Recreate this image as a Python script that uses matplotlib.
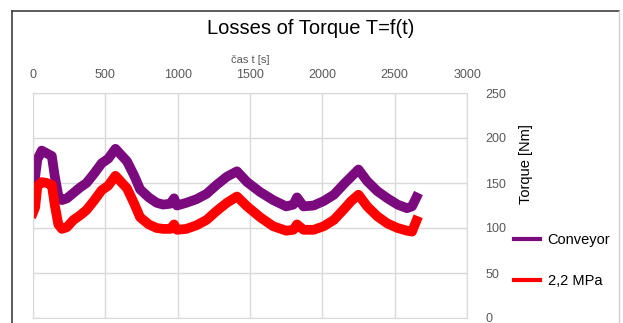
import numpy as np
import matplotlib
matplotlib.use("Agg")
import matplotlib.pyplot as plt
from matplotlib.lines import Line2D

plt.rcParams['font.family'] = ['Liberation Sans', 'DejaVu Sans']

# time [s]
t = [0, 15, 30, 60, 95, 130, 150, 175, 200, 235, 280, 325, 370, 420, 475,
     520, 570, 610, 650, 700, 740, 800, 855, 900, 950, 975, 995, 1060, 1130,
     1200, 1270, 1340, 1410, 1480, 1570, 1660, 1750, 1800, 1825, 1870, 1940,
     2010, 2080, 2150, 2200, 2250, 2310, 2380, 2450, 2520, 2585, 2620, 2650]
# torque [Nm]
conveyor = [152, 157, 176, 186, 183, 180, 158, 136, 131, 133, 139, 145, 150,
            160, 172, 177, 188, 181, 174, 158, 143, 134, 128, 126, 127, 133,
            125, 128, 132, 138, 148, 157, 163, 151, 140, 131, 124, 126, 134,
            124, 125, 130, 137, 149, 157, 165, 152, 141, 133, 126, 122, 124, 134]
mpa22 = [117, 123, 146, 151, 150, 148, 126, 104, 99, 101, 109, 114, 120,
         130, 142, 147, 158, 151, 144, 127, 112, 104, 100, 99, 99, 104,
         98, 99, 103, 109, 119, 128, 135, 124, 112, 102, 97, 98, 104,
         98, 98, 102, 109, 121, 130, 137, 124, 113, 105, 100, 97, 96, 108]

W, H = 623, 323
fig = plt.figure(figsize=(W / 100, H / 100), dpi=100)
ax = fig.add_axes([33 / W, 1 - 318 / H, (467 - 33) / W, (318 - 93) / H])

purple = '#7b0a7f'
red = '#ff0000'
ax.plot(t, conveyor, color=purple, lw=7, label='Conveyor')
ax.plot(t, mpa22, color=red, lw=7, label='2,2 MPa')

ax.set_xlim(0, 3000)
ax.set_ylim(0, 250)
ax.set_xticks(np.arange(0, 3001, 500))
ax.set_yticks(np.arange(0, 251, 50))
ax.xaxis.tick_top()
ax.yaxis.tick_right()
ax.tick_params(length=0, labelsize=9, colors='#595959')
ax.tick_params(axis='x', pad=9)
ax.tick_params(axis='y', pad=13)
for lab in ax.get_yticklabels():
    lab.set_horizontalalignment('left')
ax.grid(True, color='#d9d9d9', lw=1)
ax.set_axisbelow(True)
for s in ax.spines.values():
    s.set_color('#d9d9d9')

fig.text(250 / W, 1 - 60 / H, 'čas t [s]', ha='center', va='center', fontsize=8, color='#595959')
fig.text(311 / W, 1 - 29 / H, 'Losses of Torque T=f(t)', ha='center', va='center', fontsize=14.5, color='#000000')
fig.text(526 / W, 1 - 164 / H, 'Torque [Nm]', ha='center', va='center', rotation=90, fontsize=10.5, color='#000000')

handles = [Line2D([], [], color=purple, lw=3), Line2D([], [], color=red, lw=3)]
fig.legend(handles, ['Conveyor', '2,2 MPa'], loc='upper left', bbox_to_anchor=(501 / W, 1 - 220 / H),
           frameon=False, fontsize=10.5, handlelength=1.8, handletextpad=0.5, labelspacing=1.85)

# outer chart frame
fig.add_artist(Line2D([12 / W, 12 / W], [0, 1 - 11 / H], color='#404040', lw=1.2))
fig.add_artist(Line2D([12 / W, 619 / W], [1 - 11 / H, 1 - 11 / H], color='#404040', lw=1.2))
fig.add_artist(Line2D([619 / W, 619 / W], [0, 1 - 11 / H], color='#d0d0d0', lw=1))

fig.savefig('out.png', dpi=100)
